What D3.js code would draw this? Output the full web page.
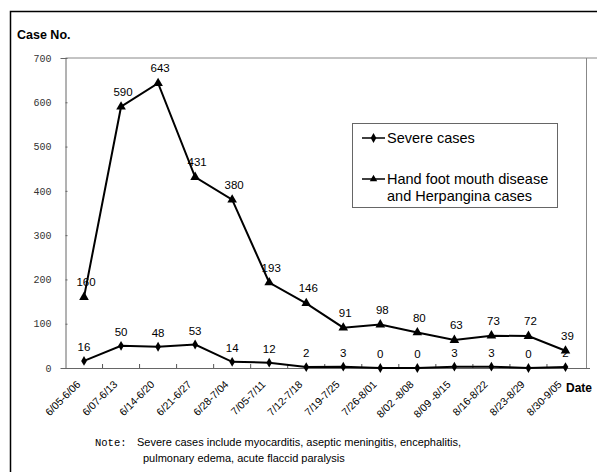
<!DOCTYPE html>
<html><head><meta charset="utf-8">
<script src="https://cdn.jsdelivr.net/npm/d3@7"></script>
<style>body{margin:0;background:#fff}svg{display:block}</style>
</head><body>
<script>
const categories = ["6/05-6/06","6/07-6/13","6/14-6/20","6/21-6/27","6/28-7/04","7/05-7/11","7/12-7/18","7/19-7/25","7/26-8/01","8/02 -8/08","8/09 -8/15","8/16-8/22","8/23-8/29","8/30-9/05"];
const severe = [16,50,48,53,14,12,2,3,0,0,3,3,0,2];
const hfmd = [160,590,643,431,380,193,146,91,98,80,63,73,72,39];
const yTicks = [0,100,200,300,400,500,600,700];
const seriesNames = ["Severe cases", ["Hand foot mouth disease","and Herpangina cases"]];

const W = 597, H = 472;
const svg = d3.select("body").append("svg").attr("width", W).attr("height", H);

// outer frame
svg.append("path").attr("d", `M10.5,${H} V11.5 H${W}`).attr("fill","none").attr("stroke","#000").attr("stroke-width",1.5);

const x = d3.scaleBand().domain(categories).range([65.5, 584]);
const y = d3.scaleLinear().domain([0, 700]).range([368, 58]);
const cx = d => x(d) + x.bandwidth()/2;

// plot frame (top and right)
svg.append("path").attr("d", `M65.5,${y(700)} H${W} M586.5,${y(700)} V${y(0)}`).attr("fill","none").attr("stroke","#888").attr("stroke-width",1);

// y axis
const ya = svg.append("g").attr("transform","translate(65.5,0)")
  .call(d3.axisLeft(y).tickValues(yTicks).tickSize(5).tickPadding(9));
ya.select(".domain").attr("stroke","#666");
ya.selectAll(".tick line").attr("stroke","#666").attr("x2",2);
ya.selectAll("text").attr("font-family","Liberation Mono, monospace").attr("font-size",10).attr("fill","#333");

// x axis
const xa = svg.append("g").attr("transform",`translate(0,${y(0)})`)
  .call(d3.axisBottom(x).tickSize(0).tickPadding(0));
xa.select(".domain").attr("stroke","#666").attr("d","M65.5,0.5H590");
xa.selectAll("text")
  .attr("font-family","Liberation Sans, Arial, sans-serif").attr("font-size",10.5).attr("fill","#000")
  .attr("text-anchor","end").attr("dy",0)
  .attr("transform","translate(-3,17) rotate(-45)");
// boundary ticks pointing up
svg.append("g").selectAll("line").data(categories.slice(1)).join("line")
  .attr("x1", d => x(d)).attr("x2", d => x(d)).attr("y1", y(0)).attr("y2", y(0)-4)
  .attr("stroke","#555");

// lines
const line = d3.line().x((d,i) => cx(categories[i])).y(d => y(d));
svg.append("path").datum(hfmd).attr("d", line).attr("fill","none").attr("stroke","#000").attr("stroke-width",2);
svg.append("path").datum(severe).attr("d", line).attr("fill","none").attr("stroke","#000").attr("stroke-width",2);

const tri = d3.symbol().type(d3.symbolTriangle).size(40);
const dia = d3.symbol().type(d3.symbolDiamond).size(28);
svg.append("g").selectAll("path").data(hfmd).join("path")
  .attr("d", tri).attr("transform",(d,i)=>`translate(${cx(categories[i])},${y(d)})`).attr("fill","#000");
svg.append("g").selectAll("path").data(severe).join("path")
  .attr("d", dia).attr("transform",(d,i)=>`translate(${cx(categories[i])},${y(d)})`).attr("fill","#000");

// data labels
const lab = "Liberation Sans, Arial, sans-serif";
svg.append("g").selectAll("text").data(hfmd).join("text")
  .attr("x",(d,i)=>cx(categories[i])+2).attr("y",d=>y(d)-11)
  .attr("text-anchor","middle").attr("font-family",lab).attr("font-size",11.5).text(d=>d);
svg.append("g").selectAll("text").data(severe).join("text")
  .attr("x",(d,i)=>cx(categories[i])).attr("y",d=>y(d)-10)
  .attr("text-anchor","middle").attr("font-family",lab).attr("font-size",11.5).text(d=>d);

// titles
svg.append("text").attr("x",17).attr("y",39).attr("font-family",lab).attr("font-weight","bold").attr("font-size",12.5).text("Case No.");
svg.append("text").attr("x",566).attr("y",392).attr("font-family",lab).attr("font-weight","bold").attr("font-size",12).text("Date");

// legend
const lg = svg.append("g");
lg.append("rect").attr("x",352.5).attr("y",123.5).attr("width",205).attr("height",84).attr("fill","#fff").attr("stroke","#666");
lg.append("line").attr("x1",362).attr("x2",385).attr("y1",138).attr("y2",138).attr("stroke","#000").attr("stroke-width",1.5);
lg.append("path").attr("d",dia).attr("transform","translate(373.5,138)");
lg.append("text").attr("x",387).attr("y",143).attr("font-family",lab).attr("font-size",14.5).text(seriesNames[0]);
lg.append("line").attr("x1",362).attr("x2",385).attr("y1",179).attr("y2",179).attr("stroke","#000").attr("stroke-width",1.5);
lg.append("path").attr("d",d3.symbol().type(d3.symbolTriangle).size(24)).attr("transform","translate(373.5,179)");
lg.append("text").attr("x",387).attr("y",184).attr("font-family",lab).attr("font-size",14.5).text(seriesNames[1][0]);
lg.append("text").attr("x",387).attr("y",201).attr("font-family",lab).attr("font-size",14.5).text(seriesNames[1][1]);

// note
svg.append("text").attr("x",95).attr("y",446).attr("font-family","Liberation Mono, monospace").attr("font-size",10.5).text("Note:");
svg.append("text").attr("x",137).attr("y",446).attr("font-family",lab).attr("font-size",11).text("Severe cases include myocarditis, aseptic meningitis, encephalitis,");
svg.append("text").attr("x",143).attr("y",462).attr("font-family",lab).attr("font-size",11).text("pulmonary edema, acute flaccid paralysis");
</script>
</body></html>
